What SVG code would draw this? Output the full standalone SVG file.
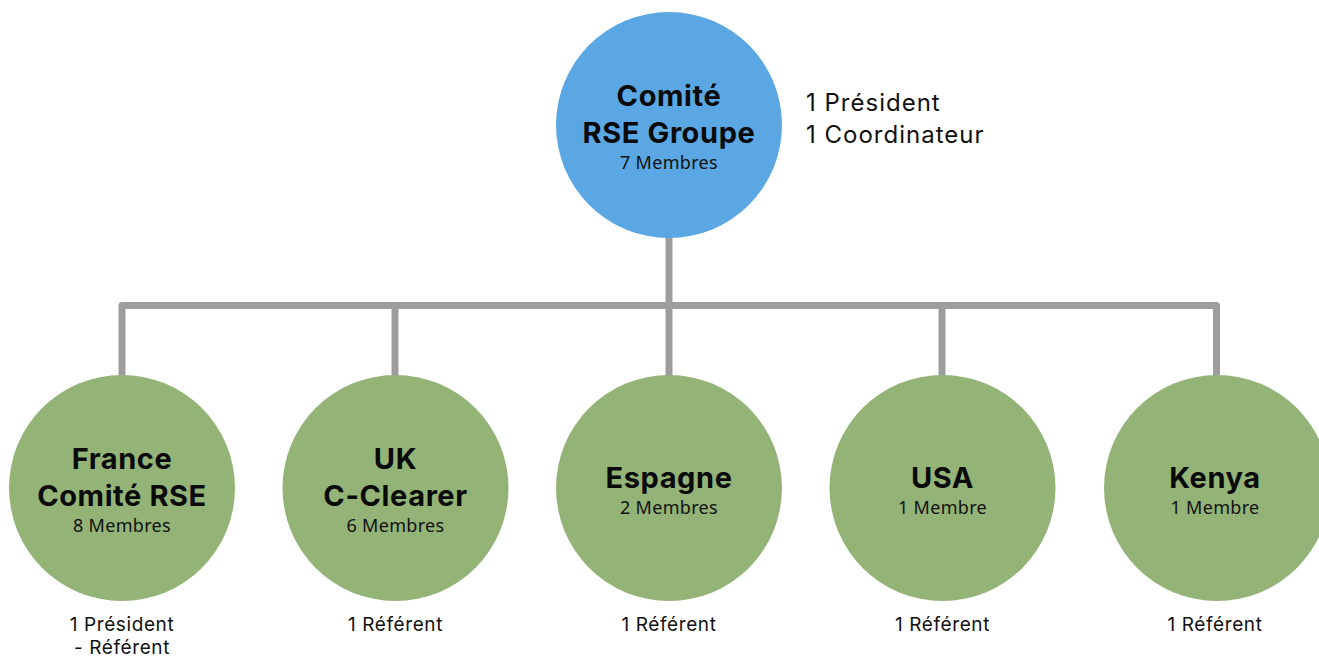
<svg xmlns="http://www.w3.org/2000/svg" width="1319" height="658" viewBox="0 0 1319 658">
<style>
.blue{fill:#5ba7e3}
.green{fill:#93b377}
.conn{fill:none;stroke:#9d9d9d;stroke-width:7;stroke-linejoin:round;stroke-linecap:butt}
.t{font-family:Inter,"Noto Sans","Liberation Sans",sans-serif;font-weight:700;font-size:29px;letter-spacing:0.6px;fill:#0a0a0a;text-anchor:middle}
.s{font-family:"Noto Sans","Open Sans","Liberation Sans",sans-serif;font-size:18px;letter-spacing:0.3px;fill:#111;text-anchor:middle}
.n{font-family:Inter,"Noto Sans","Liberation Sans",sans-serif;font-size:19px;letter-spacing:0.6px;fill:#111;text-anchor:middle}
.r{font-family:Inter,"Noto Sans","Liberation Sans",sans-serif;font-size:24px;letter-spacing:1px;fill:#111}
</style>
<rect width="1319" height="658" fill="#fff"/>
<g id="connectors">
<path class="conn" d="M669 236V305.5"/>
<path class="conn" d="M122 376V305.5H1216.5V376"/>
<path class="conn" d="M395 305.5V376"/>
<path class="conn" d="M669 305.5V376"/>
<path class="conn" d="M942 305.5V376"/>
</g>
<g id="node-groupe">
<circle class="blue" cx="669" cy="125" r="113"/>
<text class="t" x="669" y="106">Comité</text>
<text class="t" x="669" y="143">RSE Groupe</text>
<text class="s" x="669" y="169">7 Membres</text>
<text class="r" x="806" y="111">1 Président</text>
<text class="r" x="806" y="143">1 Coordinateur</text>
</g>
<g id="node-france">
<circle class="green" cx="122" cy="488" r="113"/>
<text class="t" x="122" y="469">France</text>
<text class="t" x="122" y="506">Comité RSE</text>
<text class="s" x="122" y="532">8 Membres</text>
<text class="n" x="122" y="631">1 Président</text>
<text class="n" x="122" y="654">- Référent</text>
</g>
<g id="node-uk">
<circle class="green" cx="395.5" cy="488" r="113"/>
<text class="t" x="395.5" y="469">UK</text>
<text class="t" x="395.5" y="506">C-Clearer</text>
<text class="s" x="395.5" y="532">6 Membres</text>
<text class="n" x="395.5" y="631">1 Référent</text>
</g>
<g id="node-espagne">
<circle class="green" cx="669" cy="488" r="113"/>
<text class="t" x="669" y="488">Espagne</text>
<text class="s" x="669" y="514">2 Membres</text>
<text class="n" x="669" y="631">1 Référent</text>
</g>
<g id="node-usa">
<circle class="green" cx="942.5" cy="488" r="113"/>
<text class="t" x="942.5" y="488">USA</text>
<text class="s" x="942.5" y="514">1 Membre</text>
<text class="n" x="942.5" y="631">1 Référent</text>
</g>
<g id="node-kenya">
<circle class="green" cx="1217" cy="488" r="113"/>
<text class="t" x="1215" y="488">Kenya</text>
<text class="s" x="1215" y="514">1 Membre</text>
<text class="n" x="1215" y="631">1 Référent</text>
</g>
</svg>
